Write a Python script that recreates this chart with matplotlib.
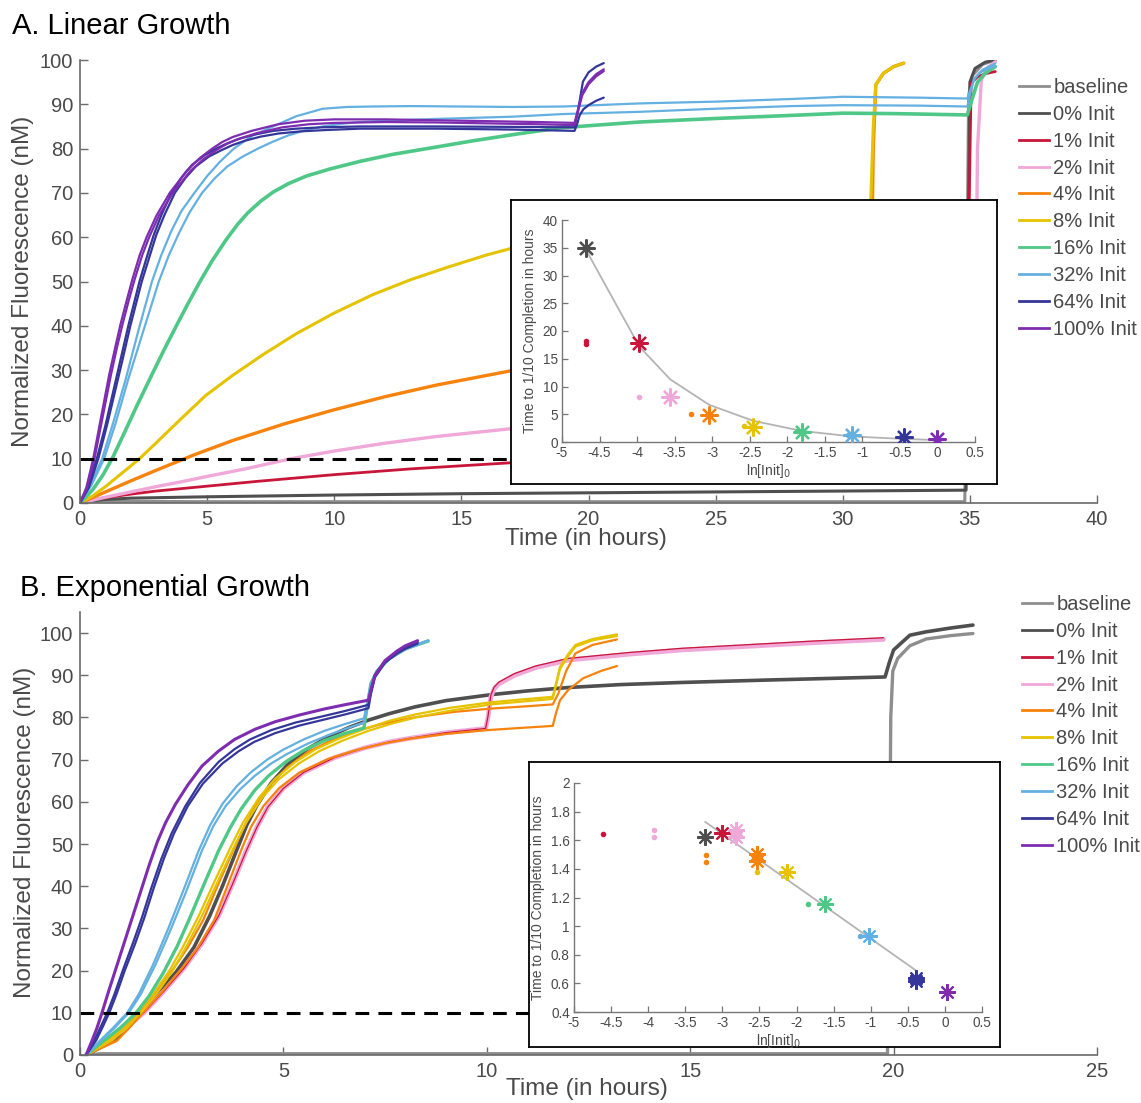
import matplotlib
matplotlib.use('Agg')
import matplotlib.pyplot as plt
from matplotlib.lines import Line2D
from matplotlib.ticker import FormatStrFormatter

plt.rcParams['font.family'] = ['Liberation Sans', 'DejaVu Sans']

# ---------------- data : panel A (linear growth) ----------------
labels = ['baseline', '0% Init', '1% Init', '2% Init', '4% Init', '8% Init',
          '16% Init', '32% Init', '64% Init', '100% Init']
colors = ['#8e8e8e', '#4f4f4f', '#c8163a', '#f0a8d8', '#f7820c', '#e6c300',
          '#4fc887', '#64b0e0', '#34369a', '#7e2db0']

A_base_t = [0, 0.3, 5, 10, 15, 20, 25, 30, 34.8, 34.85, 34.95, 35.1, 35.5, 35.9]
A_base_y = [0, 0.4, 0.3, 0.3, 0.3, 0.3, 0.3, 0.3, 0.3, 30, 92, 96.5, 99, 99.8]

A_p0_t = [0, 0.5, 1, 2, 5, 10, 15, 20, 25, 30, 34.85, 34.9, 35.0, 35.2, 35.6, 36.0]
A_p0_y = [0, 0.5, 0.8, 1.1, 1.4, 1.8, 2.1, 2.3, 2.5, 2.7, 2.9, 40, 95, 98.1, 99.5, 100]

A_p1_t = [0, 0.5, 1, 2, 3, 5, 7, 10, 13, 17, 20, 25, 30, 34.9, 34.95, 35.05, 35.3, 35.6, 36.0]
A_p1_y = [0, 0.7, 1.2, 2.0, 2.7, 3.8, 4.9, 6.4, 7.7, 9.1, 10.0, 11.5, 12.8, 14.0, 60, 94.8, 96.2, 96.9, 97.4]

A_p2_t = [0, 1, 2, 3, 4, 5, 6.5, 8.3, 9.97, 12, 14, 17, 20, 25, 30, 35.2, 35.3, 35.45, 35.7, 36.0]
A_p2_y = [0, 1.3, 2.5, 3.7, 4.8, 6.0, 7.7, 10.0, 11.7, 13.5, 15.0, 16.8, 18.5, 21, 23, 24.5, 80, 95.5, 98.3, 99.6]

A_p4_t = [0, 1, 2, 3, 4.5, 6, 8, 9.97, 12, 14, 17, 20, 23, 26, 29, 31.1, 31.2, 31.3, 31.6, 32.0, 32.4]
A_p4_y = [0, 2.5, 5.0, 7.4, 10.9, 14.1, 17.8, 21.0, 24.0, 26.6, 29.9, 32.6, 35.0, 37.2, 39.2, 40.5, 80, 94.4, 97, 98.5, 99.3]

A_p8_t = [0, 0.5, 1.0, 1.6, 2.34, 3.0, 3.9, 4.93, 6.0, 7.2, 8.5, 9.97, 11.5, 13.0, 14.5, 16.0, 17.5, 20, 23, 26, 29, 31.1, 31.2, 31.3, 31.6, 32.0, 32.4]
A_p8_y = [0, 1.6, 3.7, 6.5, 10, 13.6, 18.6, 24.2, 28.8, 33.5, 38.2, 42.8, 47.0, 50.4, 53.3, 56.0, 58.3, 61.5, 64.2, 66, 67.2, 67.8, 85, 94.4, 97, 98.5, 99.3]

A_p16_t = [0, 0.5, 0.9, 1.29, 1.7, 2.2, 2.83, 3.3, 3.7, 4.2, 4.72, 5.2, 5.77, 6.2, 6.6, 7.1, 7.6, 8.2, 8.9, 9.83, 11, 12.3, 13.75, 15.5, 17.2, 18.9, 22, 25, 28, 30, 32, 34.9, 35.05, 35.3, 35.6, 36.0]
A_p16_y = [0, 3.0, 6.3, 10.3, 15.3, 21.5, 29, 34.5, 39, 44.5, 50, 54.7, 59.6, 62.9, 65.5, 68.1, 70.2, 72.1, 73.8, 75.4, 77.1, 78.7, 80.1, 81.8, 83.3, 84.7, 86, 86.8, 87.5, 88, 87.9, 87.6, 90.5, 95, 97, 98.5]

A_p32a_t = [0, 0.4, 0.87, 1.3, 1.8, 2.3, 2.83, 3.2, 3.6, 4.0, 4.5, 5.0, 5.5, 6.05, 6.8, 7.6, 8.5, 9.55, 10.5, 11.5, 13, 15, 17, 19, 22, 25, 28, 30, 33, 34.9, 35.0, 35.2, 35.5, 36.0]
A_p32a_y = [0, 4, 10, 18, 28, 39, 50, 56, 61.5, 66, 70, 73.8, 77, 80, 83, 85, 87.3, 89, 89.4, 89.5, 89.6, 89.5, 89.4, 89.5, 90.2, 90.6, 91.2, 91.7, 91.5, 91.3, 93, 96, 97.8, 99.2]
A_p32b_t = [0, 0.45, 0.95, 1.4, 1.9, 2.5, 3.1, 3.5, 3.9, 4.3, 4.8, 5.3, 5.8, 6.4, 7.0, 7.6, 8.2, 8.9, 9.55, 10.3, 11, 12.5, 14, 17, 19, 22, 25, 28, 30, 33, 34.9, 35.0, 35.15, 35.4, 35.7, 36.0]
A_p32b_y = [0, 4, 10, 18, 28, 39, 50, 56, 61, 65.5, 70, 73.3, 76, 78.2, 80, 81.6, 83, 84.2, 85, 85.6, 86, 86.4, 86.7, 87.2, 87.8, 88.3, 89, 89.6, 89.8, 89.7, 89.5, 92, 95.5, 97.2, 98, 98.6]

A_p64a_t = [0, 0.3, 0.66, 1.0, 1.3, 1.6, 1.9, 2.34, 2.6, 2.9, 3.2, 3.6, 4.0, 4.4, 4.9, 5.35, 5.8, 6.3, 6.9, 7.6, 8.5, 9.5, 11, 14, 17, 19.45, 19.6, 19.78, 20.0, 20.3, 20.6]
A_p64a_y = [0, 3.5, 10, 17.5, 25, 32.5, 40, 50, 55, 60.5, 65, 70, 73.5, 76.3, 78.5, 80, 81.2, 82.3, 83.2, 84, 84.5, 84.8, 85.0, 85.0, 84.9, 84.8, 89, 95.1, 97.2, 98.5, 99.3]
A_p64b_t = [0, 0.35, 0.72, 1.06, 1.37, 1.68, 1.98, 2.43, 2.7, 3.0, 3.32, 3.73, 4.15, 4.56, 5.07, 5.55, 6.0, 6.5, 7.1, 7.8, 8.7, 9.7, 11, 14, 17, 19.45, 19.55, 19.65, 19.8, 20.0, 20.3, 20.6]
A_p64b_y = [0, 3.5, 10, 17.5, 25, 32.5, 40, 50, 55, 60.5, 65, 70, 73.4, 76, 78.2, 79.6, 80.8, 81.8, 82.7, 83.4, 83.9, 84.2, 84.5, 84.5, 84.3, 84.0, 85.5, 87.5, 88.9, 89.8, 90.8, 91.5]

A_p100a_t = [0, 0.25, 0.52, 0.8, 1.15, 1.4, 1.6, 1.85, 2.06, 2.35, 2.62, 3.0, 3.53, 4.2, 4.7, 5.2, 5.6, 6.0, 6.75, 7.8, 8.85, 10, 12, 14, 16, 18, 19.45, 19.55, 19.75, 20.0, 20.3, 20.6]
A_p100a_y = [0, 3.5, 10, 18.5, 29, 35.5, 40.5, 46, 50.5, 56, 60, 64.8, 70, 75, 77.8, 80, 81.5, 82.6, 84, 85.5, 86.3, 86.6, 86.6, 86.4, 86.2, 86.0, 85.8, 88, 92.5, 95, 96.8, 97.9]
A_p100b_t = [0, 0.28, 0.57, 0.86, 1.22, 1.47, 1.68, 1.93, 2.15, 2.45, 2.72, 3.1, 3.65, 4.35, 4.85, 5.35, 5.75, 6.15, 6.9, 7.95, 9.0, 10, 12, 14, 16, 18, 19.45, 19.55, 19.75, 20.0, 20.3, 20.6]
A_p100b_y = [0, 3.5, 10, 18.5, 29, 35.5, 40.5, 46, 50.5, 56, 60, 64.8, 70, 75, 77.6, 79.6, 81, 82, 83.4, 84.8, 85.5, 85.8, 86.0, 85.9, 85.7, 85.5, 85.3, 87.5, 92, 94.5, 96.3, 97.5]

# inset A
insA_star_x = [-4.68, -3.97, -3.56, -3.04, -2.45, -1.81, -1.14, -0.44, 0.0]
insA_star_y = [35.0, 17.9, 8.1, 4.9, 2.7, 1.8, 1.2, 0.85, 0.6]
insA_dot_x = [-4.68, -4.68, -3.97, -3.28, -2.57, -1.87, -1.19, -0.48]
insA_dot_y = [18.2, 17.7, 8.1, 5.0, 2.9, 1.9, 1.3, 0.9]
insA_dot_c = [2, 2, 3, 4, 5, 6, 7, 8]
insA_fit_x = [-4.68, -3.97, -3.56, -3.04, -2.45, -1.81, -1.14, -0.44, 0.0]
insA_fit_y = [34.6, 17.2, 11.3, 6.7, 3.8, 2.0, 1.0, 0.55, 0.35]

# ---------------- data : panel B (exponential growth) ----------------
B_base_t = [0.15, 0.5, 5, 10, 15, 19.85, 19.9, 19.93, 19.98, 20.1, 20.4, 20.8, 21.4, 21.95]
B_base_y = [0, 0.3, 0.3, 0.3, 0.3, 0.3, 40, 80, 91, 94, 97, 98.6, 99.4, 99.9]

B_p0_t = [0.15, 0.8, 1.15, 1.5, 1.9, 2.35, 2.8, 3.19, 3.5, 3.85, 4.1, 4.34, 4.7, 5.1, 5.6, 6.1, 6.6, 7.1, 7.6, 8.23, 9.0, 10.1, 11, 12, 13.3, 14.8, 17, 19.79, 19.9, 20.0, 20.4, 20.8, 21.4, 21.95]
B_p0_y = [0, 3.3, 6.2, 10, 14.8, 19.5, 25.5, 33, 40, 48.5, 54.5, 59, 64.5, 68.8, 72.6, 75.4, 77.6, 79.4, 80.9, 82.5, 84, 85.4, 86.3, 87.1, 87.8, 88.3, 88.9, 89.6, 93.2, 96, 99.5, 100.3, 101.2, 101.9]

B_p1_t = [0.15, 0.5, 1.0, 1.57, 2.05, 2.55, 3.0, 3.41, 3.75, 4.07, 4.35, 4.62, 5.0, 5.5, 6.26, 7.0, 7.6, 8.13, 9.0, 9.97, 10.03, 10.1, 10.18, 10.3, 10.68, 11.2, 12.0, 13.5, 14.8, 16.5, 18, 19.75]
B_p1_y = [0, 2.5, 5.5, 10, 15, 20.5, 26.5, 33, 40.5, 48, 54, 58.8, 63.2, 67, 70.5, 72.8, 74.2, 75.1, 76.4, 77.4, 80.3, 85.3, 87.2, 88.4, 90.4, 92.2, 94.0, 95.4, 96.4, 97.3, 98.1, 98.9]
B_p2_t = [0.15, 0.5, 1.0, 1.57, 2.05, 2.55, 3.0, 3.41, 3.75, 4.07, 4.35, 4.62, 5.0, 5.5, 6.26, 7.0, 7.6, 8.13, 9.0, 9.97, 10.03, 10.1, 10.18, 10.3, 10.68, 11.2, 12.0, 13.5, 14.8, 16.5, 18, 19.75]
B_p2_y = [0, 2.5, 5.5, 10, 15, 20.5, 26.5, 33, 40.5, 48, 54, 58.8, 63.2, 67, 70.5, 72.8, 74.2, 75.1, 76.4, 77.4, 80, 84.9, 86.8, 88, 90, 91.8, 93.6, 95, 96, 96.9, 97.7, 98.5]

B_p4a_t = [0.15, 0.8, 1.1, 1.45, 1.85, 2.3, 2.65, 3.03, 3.4, 3.79, 4.05, 4.34, 4.7, 5.1, 5.6, 6.2, 6.8, 7.4, 8.2, 9.17, 10.1, 11.05, 11.62, 11.76, 11.95, 12.18, 12.6, 13.2]
B_p4a_y = [0, 3.3, 6.3, 10, 14.5, 20.5, 25.5, 32, 40.5, 49, 54.5, 59.5, 64.3, 68.2, 71.8, 74.7, 76.8, 78.4, 80, 81.3, 82.1, 82.7, 83.1, 85.7, 91, 95.2, 97.2, 98.5]
B_p4b_t = [0.15, 0.9, 1.2, 1.55, 2.0, 2.5, 2.9, 3.3, 3.62, 3.96, 4.2, 4.51, 4.9, 5.4, 6.1, 6.8, 7.5, 8.13, 9.0, 10.0, 10.8, 11.62, 11.7, 11.8, 12.0, 12.37, 12.8, 13.2]
B_p4b_y = [0, 3.3, 6.3, 10, 14.8, 20.5, 25.5, 32, 40, 48.5, 54, 59, 63.3, 67, 70.2, 72.3, 73.9, 75, 76.1, 77, 77.5, 78, 81, 84.1, 86.5, 89.3, 91, 92.2]

B_p8a_t = [0.15, 0.7, 1.05, 1.41, 1.8, 2.2, 2.55, 2.92, 3.3, 3.69, 4.0, 4.4, 4.8, 5.3, 5.8, 6.37, 7.0, 7.6, 8.23, 9.1, 10.1, 10.9, 11.62, 11.7, 11.8, 12.0, 12.18, 12.6, 13.2]
B_p8a_y = [0, 3.5, 6.3, 10, 14.5, 20, 26, 33, 41, 49, 55, 61, 65.5, 69.5, 72.5, 75, 77.3, 79.2, 80.7, 82.3, 83.6, 84.3, 84.9, 88, 92, 95, 97.2, 98.6, 99.7]
B_p8b_t = [0.15, 0.78, 1.13, 1.49, 1.88, 2.28, 2.63, 3.0, 3.38, 3.77, 4.08, 4.48, 4.88, 5.38, 5.88, 6.45, 7.08, 7.68, 8.3, 9.15, 10.1, 10.9, 11.62, 11.7, 11.8, 12.0, 12.18, 12.6, 13.2]
B_p8b_y = [0, 3.5, 6.3, 10, 14.5, 20, 26, 33, 41, 49, 55, 61, 65.3, 69.1, 72, 74.5, 76.8, 78.6, 80.1, 81.7, 83.1, 83.8, 84.4, 87.5, 91.5, 94.6, 96.8, 98.3, 99.3]

B_p16_t = [0.15, 0.6, 1.0, 1.38, 1.7, 2.05, 2.4, 2.7, 3.05, 3.41, 3.7, 3.96, 4.3, 4.65, 5.06, 5.5, 6.0, 6.5, 6.98, 7.05, 7.15, 7.3, 7.6, 8.0, 8.56]
B_p16_y = [0, 3.5, 6.5, 10, 14, 19.5, 26, 32.5, 40.5, 48.5, 54, 58.3, 62.8, 66.3, 69.5, 72.2, 74.5, 76.2, 77.5, 82, 88, 91, 94, 96.3, 98.1]

B_p32a_t = [0.15, 0.5, 0.8, 1.16, 1.45, 1.8, 2.15, 2.5, 2.92, 3.2, 3.5, 3.85, 4.2, 4.6, 5.0, 5.5, 6.0, 6.5, 6.98, 7.05, 7.15, 7.3, 7.6, 8.0, 8.56]
B_p32a_y = [0, 3.5, 6.3, 10, 14.5, 21.5, 29.5, 38, 48.5, 54.5, 59.5, 63.7, 67, 70, 72.4, 74.8, 76.8, 78.4, 79.8, 83, 88, 91, 94, 96.3, 98.3]
B_p32b_t = [0.15, 0.52, 0.84, 1.2, 1.5, 1.86, 2.22, 2.58, 3.0, 3.28, 3.58, 3.94, 4.3, 4.7, 5.1, 5.6, 6.1, 6.55, 6.98, 7.05, 7.15, 7.3, 7.6, 8.0, 8.56]
B_p32b_y = [0, 3.5, 6.3, 10, 14.5, 21.5, 29.5, 38, 48.5, 54.3, 59, 63, 66.2, 69.1, 71.4, 73.8, 75.8, 77.4, 78.8, 82, 87.5, 90.8, 93.8, 96.1, 98.2]

B_p64a_t = [0.15, 0.35, 0.5, 0.67, 0.85, 1.05, 1.3, 1.52, 1.75, 2.0, 2.25, 2.59, 2.95, 3.41, 3.8, 4.18, 4.7, 5.3, 5.93, 6.5, 7.09, 7.15, 7.25, 7.5, 7.8, 8.0, 8.3]
B_p64a_y = [0, 3.5, 6.5, 10, 14.5, 20, 26.5, 32.5, 39.5, 46.5, 52.5, 59, 64.5, 69.5, 72.5, 74.8, 77, 78.8, 80.2, 81.5, 83.0, 86, 90, 93.3, 95.5, 96.6, 97.8]
B_p64b_t = [0.15, 0.4, 0.55, 0.72, 0.9, 1.1, 1.36, 1.58, 1.81, 2.06, 2.31, 2.65, 3.02, 3.5, 3.9, 4.28, 4.8, 5.4, 6.0, 6.55, 7.09, 7.15, 7.25, 7.5, 7.8, 8.0, 8.3]
B_p64b_y = [0, 3.5, 6.5, 10, 14.5, 20, 26.5, 32.5, 39.5, 46.5, 52.5, 59, 64.3, 69.1, 72, 74.2, 76.3, 78.1, 79.5, 80.8, 82.2, 85.5, 89.5, 93, 95.2, 96.3, 97.5]

B_p100_t = [0.15, 0.3, 0.42, 0.54, 0.7, 0.9, 1.1, 1.3, 1.5, 1.7, 1.9, 2.1, 2.35, 2.65, 3.0, 3.4, 3.8, 4.3, 4.8, 5.4, 6.0, 6.5, 7.09, 7.15, 7.25, 7.5, 7.8, 8.0, 8.3]
B_p100_y = [0, 3.5, 6.5, 10, 15, 21, 27, 33, 39, 45, 50.5, 55, 59.5, 64, 68.5, 72, 74.8, 77.2, 79, 80.6, 82, 83, 84.1, 86.5, 90, 93.5, 95.8, 97, 98.2]

# inset B
insB_star_x = [-3.23, -3.00, -2.81, -2.81, -2.53, -2.53, -2.13, -1.62, -1.03, -0.39, -0.39, 0.03]
insB_star_y = [1.624, 1.652, 1.675, 1.62, 1.503, 1.457, 1.38, 1.155, 0.93, 0.637, 0.614, 0.537]
insB_star_c = [1, 2, 3, 3, 4, 4, 5, 6, 7, 8, 8, 9]
insB_dot_x = [-4.61, -3.92, -3.92, -3.22, -3.22, -2.53, -1.84, -1.15, -0.44, -0.44]
insB_dot_y = [1.647, 1.675, 1.62, 1.496, 1.45, 1.38, 1.155, 0.93, 0.625, 0.645]
insB_dot_c = [2, 3, 3, 4, 4, 5, 6, 7, 8, 8]
insB_fit_x = [-3.23, -0.39]
insB_fit_y = [1.728, 0.69]

# ---------------- figure ----------------
W, H = 1141, 1103
fig = plt.figure(figsize=(W / 100, H / 100), dpi=100)
AX_COL = '#6a6a6a'
TXT_COL = '#4a4a4a'


def fr(x0, y0, x1, y1):
    return [x0 / W, 1 - y1 / H, (x1 - x0) / W, (y1 - y0) / H]


def style_main(ax):
    for s in ['top', 'right']:
        ax.spines[s].set_visible(False)
    for s in ['left', 'bottom']:
        ax.spines[s].set_color(AX_COL)
        ax.spines[s].set_linewidth(1.2)
    ax.tick_params(direction='in', length=6, width=1.0, color=AX_COL,
                   labelsize=14.5, labelcolor=TXT_COL, pad=5)


def style_inset(ax):
    for s in ['top', 'right']:
        ax.spines[s].set_visible(False)
    for s in ['left', 'bottom']:
        ax.spines[s].set_color('#777777')
        ax.spines[s].set_linewidth(1.0)
    ax.set_facecolor('none')
    ax.tick_params(direction='in', length=4, width=0.9, color='#777777',
                   labelsize=9.8, labelcolor=TXT_COL, pad=3)


def draw(ax, t, y, ci, lw=1.6):
    ax.plot(t, y, color=colors[ci], lw=lw, solid_joinstyle='round', solid_capstyle='round')


# ---- panel A ----
axA = fig.add_axes(fr(80, 60, 1097, 503))
style_main(axA)
draw(axA, A_base_t, A_base_y, 0, 2.2)
draw(axA, A_p0_t, A_p0_y, 1, 2.2)
draw(axA, A_p1_t, A_p1_y, 2, 2.0)
draw(axA, A_p2_t, A_p2_y, 3, 2.4)
draw(axA, A_p4_t, A_p4_y, 4, 2.4)
draw(axA, A_p8_t, A_p8_y, 5, 2.2)
draw(axA, A_p16_t, A_p16_y, 6, 2.6)
draw(axA, A_p32a_t, A_p32a_y, 7)
draw(axA, A_p32b_t, A_p32b_y, 7)
draw(axA, A_p64a_t, A_p64a_y, 8)
draw(axA, A_p64b_t, A_p64b_y, 8)
draw(axA, A_p100a_t, A_p100a_y, 9)
draw(axA, A_p100b_t, A_p100b_y, 9)
axA.plot([0, 30], [10, 10], color='black', lw=2.2, dashes=(4.5, 3))
axA.set_xlim(0, 40)
axA.set_ylim(0, 100)
axA.set_xticks(range(0, 41, 5))
axA.set_yticks(range(0, 101, 10))

fig.text(12 / W, 1 - 26 / H, 'A. Linear Growth', fontsize=21, va='center', ha='left', color='black')
fig.text(23 / W, 1 - 281 / H, 'Normalized Fluorescence (nM)', fontsize=17.5, rotation=90,
         va='center', ha='center', color=TXT_COL)
fig.text(586 / W, 1 - 539 / H, 'Time (in hours)', fontsize=17.5, va='center', ha='center', color=TXT_COL)

# inset A
boxA = fig.add_axes(fr(511, 200, 997, 484))
boxA.set_xticks([]); boxA.set_yticks([])
for s in boxA.spines.values():
    s.set_color('black'); s.set_linewidth(1.3)
boxA.set_zorder(5)
insA = fig.add_axes(fr(562, 220, 975, 442))
insA.set_zorder(6)
style_inset(insA)
insA.plot(insA_fit_x, insA_fit_y, color='#b4b4b4', lw=1.3, zorder=1)
for x, y, c in zip(insA_dot_x, insA_dot_y, insA_dot_c):
    insA.plot(x, y, 'o', color=colors[c], ms=4, mew=0, zorder=2)
for i, (x, y) in enumerate(zip(insA_star_x, insA_star_y)):
    insA.plot(x, y, marker=(8, 2, 0), color=colors[i + 1], ms=13, mew=1.6, zorder=3)
insA.set_xlim(-5, 0.5)
insA.set_ylim(0, 40)
insA.set_xticks([-5, -4.5, -4, -3.5, -3, -2.5, -2, -1.5, -1, -0.5, 0, 0.5])
insA.set_yticks(range(0, 41, 5))
insA.xaxis.set_major_formatter(FormatStrFormatter('%g'))
insA.set_xlabel('ln[Init]$_0$', fontsize=10, color=TXT_COL, labelpad=1)
insA.set_ylabel('Time to 1/10 Completion in hours', fontsize=10, color=TXT_COL, labelpad=4)

# ---- panel B ----
axB = fig.add_axes(fr(80, 612, 1097, 1055))
style_main(axB)
draw(axB, B_base_t, B_base_y, 0, 2.4)
draw(axB, B_p0_t, B_p0_y, 1, 2.6)
draw(axB, B_p2_t, B_p2_y, 3, 3.4)
draw(axB, B_p1_t, B_p1_y, 2, 0.9)
draw(axB, B_p4a_t, B_p4a_y, 4)
draw(axB, B_p4b_t, B_p4b_y, 4)
draw(axB, B_p8a_t, B_p8a_y, 5)
draw(axB, B_p8b_t, B_p8b_y, 5)
draw(axB, B_p16_t, B_p16_y, 6, 2.4)
draw(axB, B_p32a_t, B_p32a_y, 7)
draw(axB, B_p32b_t, B_p32b_y, 7)
draw(axB, B_p64a_t, B_p64a_y, 8)
draw(axB, B_p64b_t, B_p64b_y, 8)
draw(axB, B_p100_t, B_p100_y, 9, 2.2)
axB.plot([0, 14], [10, 10], color='black', lw=2.2, dashes=(4.5, 3))
axB.set_xlim(0, 25)
axB.set_ylim(0, 105)
axB.set_xticks(range(0, 26, 5))
axB.set_yticks(range(0, 101, 10))

fig.text(20 / W, 1 - 588 / H, 'B. Exponential Growth', fontsize=21, va='center', ha='left', color='black')
fig.text(25 / W, 1 - 832 / H, 'Normalized Fluorescence (nM)', fontsize=17.5, rotation=90,
         va='center', ha='center', color=TXT_COL)
fig.text(587 / W, 1 - 1089 / H, 'Time (in hours)', fontsize=17.5, va='center', ha='center', color=TXT_COL)

# inset B
boxB = fig.add_axes(fr(529, 762, 1000, 1047))
boxB.set_xticks([]); boxB.set_yticks([])
for s in boxB.spines.values():
    s.set_color('black'); s.set_linewidth(1.3)
boxB.set_zorder(5)
insB = fig.add_axes(fr(574, 783, 982, 1012))
insB.set_zorder(6)
style_inset(insB)
insB.plot(insB_fit_x, insB_fit_y, color='#b4b4b4', lw=1.3, zorder=1)
for x, y, c in zip(insB_dot_x, insB_dot_y, insB_dot_c):
    insB.plot(x, y, 'o', color=colors[c], ms=4, mew=0, zorder=2)
for x, y, c in zip(insB_star_x, insB_star_y, insB_star_c):
    insB.plot(x, y, marker=(8, 2, 0), color=colors[c], ms=12, mew=1.5, zorder=3)
insB.set_xlim(-5, 0.5)
insB.set_ylim(0.4, 2)
insB.set_xticks([-5, -4.5, -4, -3.5, -3, -2.5, -2, -1.5, -1, -0.5, 0, 0.5])
insB.set_yticks([0.4, 0.6, 0.8, 1.0, 1.2, 1.4, 1.6, 1.8, 2.0])
insB.xaxis.set_major_formatter(FormatStrFormatter('%g'))
insB.yaxis.set_major_formatter(FormatStrFormatter('%g'))
insB.set_xlabel('ln[Init]$_0$', fontsize=10, color=TXT_COL, labelpad=1)
insB.set_ylabel('Time to 1/10 Completion in hours', fontsize=10, color=TXT_COL, labelpad=4)

# legends
handles = [Line2D([], [], color=c, lw=2) for c in colors]
for top, left in [(78, 1019), (595, 1022)]:
    fig.legend(handles, labels, loc='upper left', bbox_to_anchor=(left / W, 1 - top / H),
               frameon=False, fontsize=14.5, handlelength=1.5, handletextpad=0.2,
               labelspacing=0.39, borderpad=0, borderaxespad=0, labelcolor=TXT_COL)

fig.savefig('out.png', dpi=100)
